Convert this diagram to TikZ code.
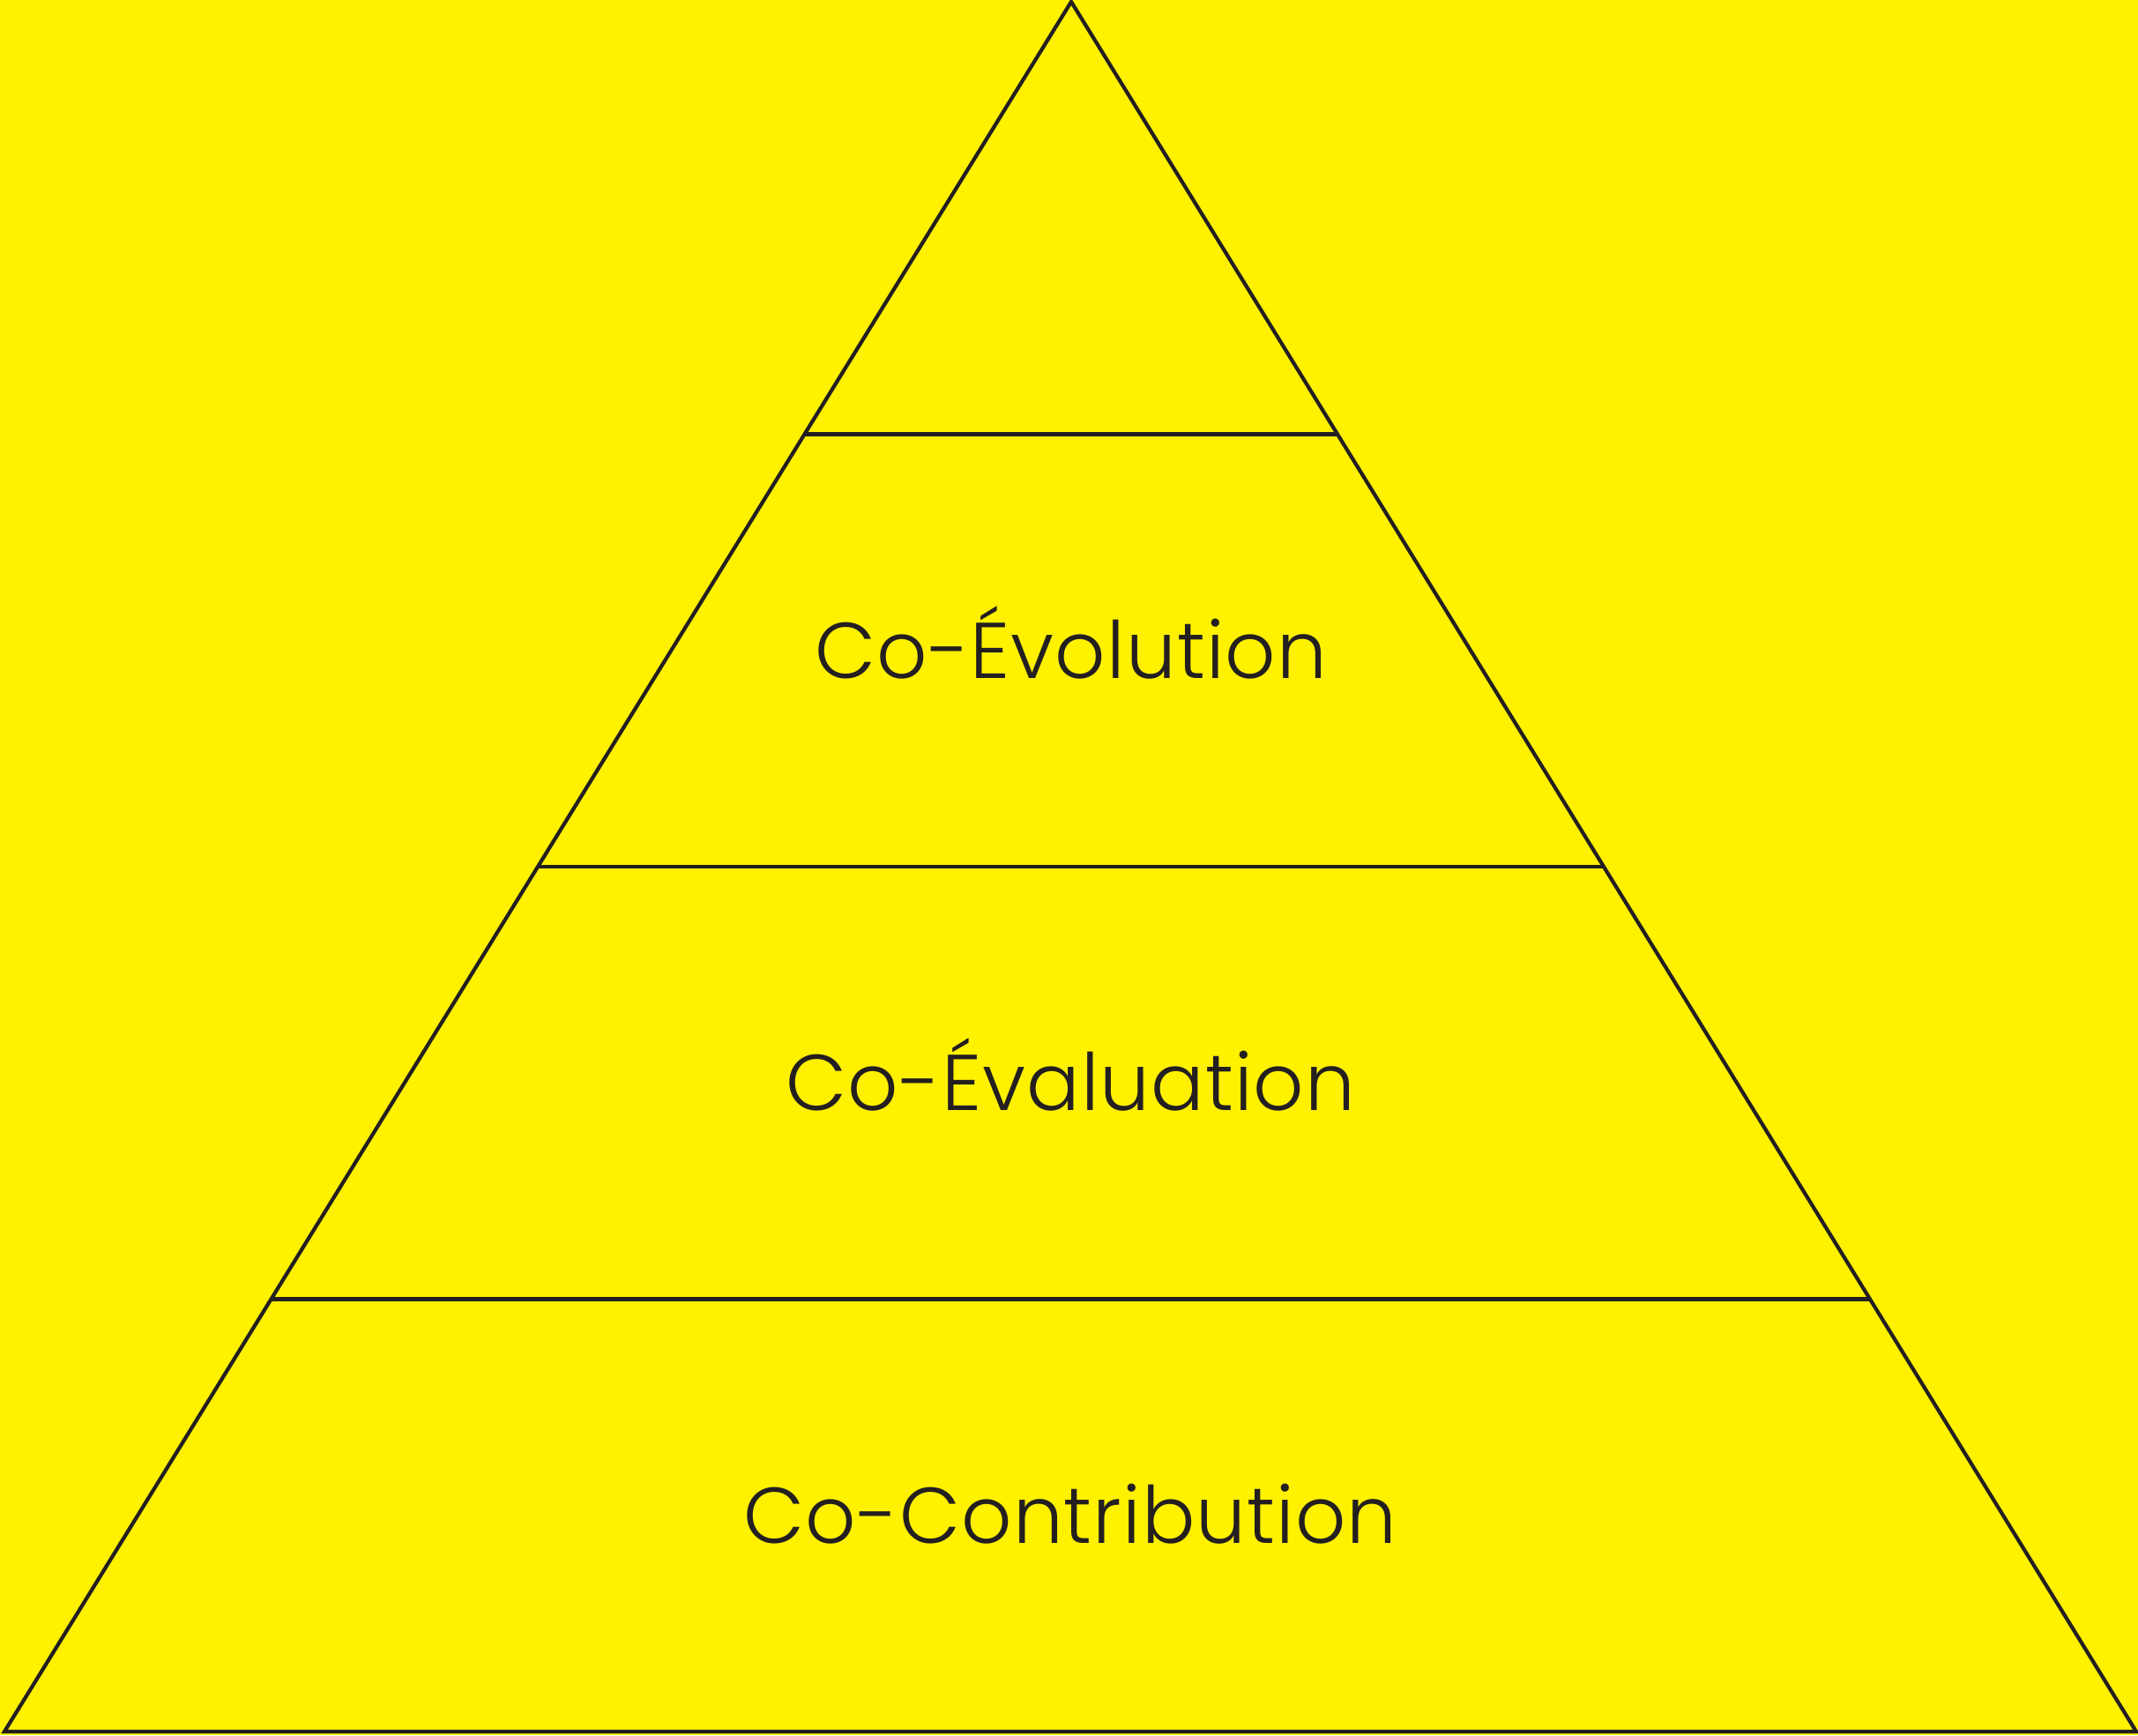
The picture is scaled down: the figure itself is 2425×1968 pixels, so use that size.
\documentclass[tikz,border=0pt]{standalone}
\usepackage{fontspec}
\usepackage{xcolor}
\usetikzlibrary{calc}
\setmainfont{Poppins}[UprightFont=* Light, LetterSpace=1.2]
\definecolor{pyryellow}{RGB}{255,241,0}
\definecolor{pyrink}{RGB}{35,31,32}

\begin{document}
\begin{tikzpicture}[
    x=0.01cm, y=-0.01cm,
    edge/.style={draw=pyrink, line width=1.2pt, line join=miter},
    level/.style={text=pyrink, font=\fontsize{25.5}{30}\selectfont,
                  inner sep=0pt, text height=17.8pt, text depth=0pt, anchor=center}
]
\fill[pyryellow] (0,0) rectangle (2425,1968);
\useasboundingbox (0,0) rectangle (2425,1968);

\coordinate (apex) at (1215,2);
\coordinate (bl) at (5,1964);
\coordinate (br) at (2423,1964);
\coordinate (bm) at ($(bl)!0.5!(br)$);

% the pyramid
\draw[edge] (apex) -- (bl) -- (br) -- cycle;
\foreach \f/\n in {0.25/a, 0.5/b, 0.75/c} {
  \coordinate (l\n) at ($(apex)!\f!(bl)$);
  \coordinate (r\n) at ($(apex)!\f!(br)$);
  \draw[edge] (l\n) -- (r\n);
}

% labels
\node[level] (evolution) at ($(apex)!0.375!(bm)$) {Co-Évolution};
\node[level] (evaluation) at ($(apex)!0.625!(bm)$) {Co-Évaluation};
\node[level] (contribution) at ($(apex)!0.875!(bm)$) {Co-Contribution};
\end{tikzpicture}
\end{document}
